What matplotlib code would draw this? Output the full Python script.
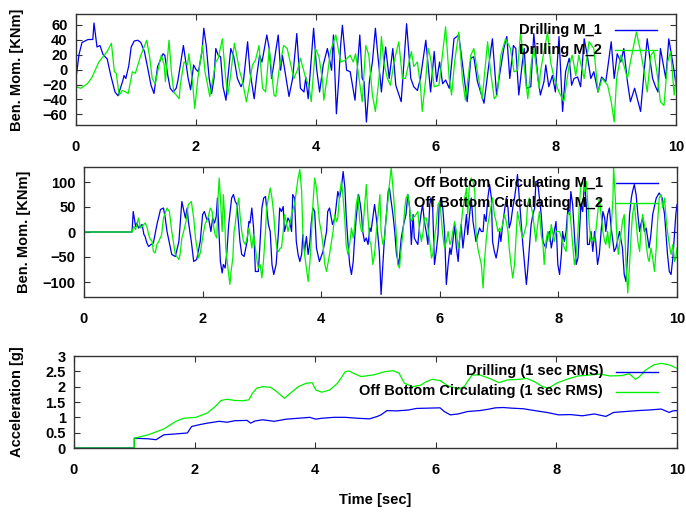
import matplotlib
matplotlib.use("Agg")
import matplotlib.pyplot as plt
from matplotlib.ticker import FormatStrFormatter
from matplotlib.transforms import ScaledTranslation

plt.rcParams["font.family"] = ["Liberation Sans", "DejaVu Sans"]
plt.rcParams["font.weight"] = "bold"

BLUE = "#0000f0"
GREEN = "#00f000"

# --- drilling, bending moment ---
drill_t1 = [0, 0.05, 0.1, 0.2, 0.28, 0.3, 0.35, 0.4, 0.45, 0.52, 0.58, 0.65, 0.7, 0.78, 0.8, 0.83,
            0.88, 0.92, 0.97, 1.03, 1.08, 1.14, 1.2, 1.25, 1.3, 1.36, 1.45, 1.48, 1.53, 1.57, 1.62,
            1.67, 1.7, 1.79, 1.83, 1.87, 1.91, 1.96, 2.0, 2.04, 2.1, 2.13, 2.17, 2.22, 2.26, 2.3,
            2.33, 2.37, 2.41, 2.45, 2.5, 2.53, 2.58, 2.63, 2.69, 2.75, 2.79, 2.86, 2.9, 2.97, 3.01,
            3.06, 3.1, 3.18, 3.22, 3.26, 3.37, 3.41, 3.44, 3.55, 3.61, 3.68, 3.74, 3.8, 3.83, 3.84,
            3.87, 3.96, 4.01, 4.06, 4.12, 4.19, 4.26, 4.29, 4.34, 4.38, 4.41, 4.44, 4.51, 4.57, 4.65,
            4.73, 4.77, 4.8, 4.84, 4.89, 4.94, 4.99, 5.03, 5.07, 5.09, 5.16, 5.22, 5.28, 5.33, 5.42,
            5.51, 5.58, 5.63, 5.69, 5.74, 5.83, 5.91, 5.97, 6.01, 6.06, 6.11, 6.16, 6.22, 6.3, 6.38,
            6.52, 6.58, 6.63, 6.69, 6.8, 6.88, 6.94, 7.01, 7.05, 7.13, 7.18, 7.23, 7.29, 7.33, 7.38,
            7.44, 7.47, 7.51, 7.58, 7.63, 7.7, 7.74, 7.8, 7.83, 7.88, 7.94, 7.99, 8.05, 8.11, 8.16,
            8.22, 8.26, 8.3, 8.36, 8.41, 8.47, 8.52, 8.58, 8.63, 8.7, 8.76, 8.83, 8.86, 8.92, 8.97,
            9.02, 9.08, 9.13, 9.19, 9.24, 9.31, 9.41, 9.47, 9.52, 9.61, 9.66, 9.7, 9.74, 9.83, 9.88,
            9.97, 10.0]
drill_m1 = [-12, 20, 36, 40, 40, 62, 30, 32, 20, 14, -8, -30, -35, -15, -8, -12,
            5, 30, 38, 39, 36, 24, 0, -21, -32, 4, 21, 19, -8, -25, -30,
            -25, -14, 32, 10, -12, -27, 6, 0, -3, 24, 55, 32, -12, -32, -12,
            28, 19, 17, -23, -41, -12, 28, 17, -12, -23, -16, 37, -3, -39, -10,
            19, 10, 46, 28, -12, 46, -1, 19, -36, -12, 48, -25, -30, -10, -19,
            -39, 55, 1, -30, 6, 28, -1, 46, -59, -12, 32, 59, -1, -3, -41,
            46, -12, -16, -70, -16, 10, 55, 19, -12, -30, 30, -12, 28, -21, -43,
            61, -12, -23, -28, -12, 39, -30, 24, -16, 10, -19, -14, -25, 41, 46,
            -43, 15, 17, -16, -45, 6, 41, -34, -12, 28, 44, -12, 32, 28, -34,
            10, 28, -25, -23, 48, -12, -34, -16, 6, -23, -8, -30, 44, -56, -3,
            15, -21, -12, -10, -23, 41, 19, -12, -3, -30, -10, -16, 1, 37, -12,
            21, 10, 28, -16, -43, -25, -56, -1, 41, -12, -23, -30, 28, -12, 41,
            -3, -21]
drill_t2 = [0, 0.08, 0.19, 0.27, 0.33, 0.38, 0.47, 0.52, 0.59, 0.64, 0.67, 0.72, 0.77, 0.83, 0.87,
            0.94, 0.99, 1.08, 1.18, 1.23, 1.27, 1.32, 1.37, 1.42, 1.47, 1.49, 1.55, 1.59, 1.63, 1.72,
            1.74, 1.8, 1.86, 1.88, 1.94, 1.98, 2.03, 2.11, 2.15, 2.23, 2.33, 2.37, 2.44, 2.49, 2.53,
            2.57, 2.64, 2.73, 2.77, 2.84, 2.88, 2.94, 2.99, 3.05, 3.11, 3.16, 3.22, 3.3, 3.33, 3.38,
            3.46, 3.52, 3.58, 3.63, 3.69, 3.74, 3.83, 3.88, 3.92, 3.99, 4.05, 4.11, 4.13, 4.19, 4.24,
            4.33, 4.41, 4.48, 4.57, 4.62, 4.66, 4.73, 4.77, 4.83, 4.88, 4.94, 4.99, 5.05, 5.09, 5.13,
            5.19, 5.24, 5.3, 5.38, 5.44, 5.49, 5.55, 5.59, 5.63, 5.69, 5.74, 5.77, 5.83, 5.87, 5.91,
            5.97, 6.05, 6.16, 6.22, 6.26, 6.31, 6.38, 6.44, 6.49, 6.58, 6.63, 6.69, 6.77, 6.86, 6.91,
            6.97, 7.02, 7.08, 7.16, 7.24, 7.3, 7.36, 7.41, 7.49, 7.53, 7.59, 7.63, 7.72, 7.74, 7.8,
            7.86, 7.91, 7.97, 8.05, 8.13, 8.22, 8.27, 8.33, 8.38, 8.47, 8.55, 8.63, 8.7, 8.77, 8.86,
            8.92, 8.97, 9.01, 9.08, 9.13, 9.19, 9.24, 9.34, 9.41, 9.47, 9.52, 9.58, 9.63, 9.69, 9.74,
            9.8, 9.86, 9.91, 9.97, 10.0]
drill_m2 = [-23, -25, -19, -10, 1, 10, 19, 24, 35, -3, -5, -34, -28, -30, -32,
            -3, -5, 19, 39, 15, -12, -19, 1, 19, 6, -16, 39, -3, -30, -39,
            -19, 10, 6, 21, -16, -52, -12, 32, -3, -36, 10, 15, 41, -8, -34,
            -12, 35, -3, -14, -43, -25, 6, 12, 32, -25, -30, 28, -34, -36, -3,
            32, 28, 6, -12, -1, 15, -12, -21, -43, 28, 17, -16, -41, -8, 24,
            46, 10, 12, 19, 10, 21, -19, -43, 32, 19, -34, -56, -12, 44, 10,
            -12, -21, 10, 37, -12, -12, 10, 24, 4, 10, -21, -56, -12, 28, 15,
            -23, -21, 57, -12, -34, 10, 50, -12, -41, 19, 28, -3, -39, 37, -3,
            -39, -34, 19, 41, 28, -3, -1, 50, -12, -39, 10, 28, -25, -3, 24,
            50, 10, -12, -30, -43, 6, 19, -8, 19, -12, 37, 28, -30, -12, -21,
            -43, -70, -12, 19, 6, -12, 10, 50, 24, -3, -30, 19, 24, -8, -43,
            -48, 10, 24, -34, -12]

# --- off bottom circulating, bending moment ---
obc_t1 = [0, 0.81, 0.83, 0.87, 0.89, 0.92, 0.98, 1.01, 1.03, 1.06, 1.09, 1.13, 1.17, 1.23, 1.29,
          1.34, 1.37, 1.4, 1.44, 1.48, 1.54, 1.6, 1.65, 1.68, 1.71, 1.74, 1.76, 1.81, 1.85, 1.9,
          1.96, 2.0, 2.03, 2.07, 2.1, 2.14, 2.17, 2.2, 2.23, 2.25, 2.27, 2.3, 2.33, 2.35, 2.38,
          2.41, 2.44, 2.49, 2.52, 2.55, 2.58, 2.63, 2.66, 2.7, 2.75, 2.78, 2.8, 2.83, 2.86, 2.89,
          2.94, 2.97, 3.0, 3.03, 3.06, 3.08, 3.11, 3.14, 3.17, 3.2, 3.24, 3.28,
          3.3, 3.33, 3.36, 3.38, 3.44, 3.47, 3.5, 3.52, 3.55, 3.58, 3.61, 3.64, 3.67, 3.69, 3.72,
          3.75, 3.78, 3.81, 3.83, 3.86, 3.89, 3.92, 3.97, 4.03, 4.09, 4.11, 4.14, 4.19, 4.23, 4.28,
          4.31, 4.34, 4.37, 4.4, 4.42, 4.45, 4.48, 4.51, 4.54, 4.56, 4.59, 4.63, 4.66, 4.68, 4.7,
          4.73, 4.76, 4.79, 4.82, 4.84, 4.87, 4.9, 4.93, 4.98, 5.01, 5.04, 5.07, 5.1, 5.13, 5.15,
          5.21, 5.24, 5.27, 5.31, 5.35, 5.39, 5.43, 5.46, 5.49, 5.52, 5.55, 5.57, 5.6, 5.63, 5.66,
          5.69, 5.71, 5.74, 5.77, 5.8, 5.83, 5.85, 5.88, 5.91, 5.94, 5.97, 5.99, 6.02, 6.05, 6.08,
          6.11, 6.14, 6.17, 6.19, 6.22, 6.25, 6.28, 6.31, 6.33, 6.36, 6.39, 6.42, 6.45, 6.47, 6.53,
          6.56, 6.61, 6.67, 6.7, 6.73, 6.75, 6.78, 6.81, 6.84, 6.87, 6.89, 6.92, 6.95, 6.98, 7.01,
          7.03, 7.06, 7.12, 7.15, 7.17, 7.2, 7.23, 7.26, 7.29, 7.31, 7.34, 7.37, 7.4, 7.43, 7.46,
          7.48, 7.51, 7.54, 7.57, 7.6, 7.62, 7.65, 7.68, 7.71, 7.74, 7.76, 7.79, 7.82, 7.85, 7.88,
          7.9, 7.93, 7.96, 7.99, 8.02, 8.05, 8.07, 8.1, 8.13, 8.16, 8.19, 8.21, 8.24, 8.27, 8.3,
          8.33, 8.35, 8.38, 8.41, 8.44, 8.47, 8.49, 8.52, 8.55, 8.58, 8.61, 8.63, 8.66, 8.69, 8.72,
          8.75, 8.78, 8.8, 8.83, 8.86, 8.89, 8.92, 8.94, 8.97, 9.03, 9.06, 9.08, 9.11, 9.14, 9.17,
          9.2, 9.23, 9.25, 9.28, 9.31, 9.34, 9.37, 9.39, 9.42, 9.45, 9.48, 9.53, 9.56, 9.59, 9.65,
          9.7, 9.75, 9.79, 9.82, 9.84, 9.87, 9.9, 9.93, 9.96, 9.98, 10.0]
obc_m1 = [0, 0, 41, 11, 18, 8, 15, -5, -9, -22, -29, -25, -22, 15, 45,
          48, 28, 1, -22, -45, -49, -19, 61, 45, 28, 48, 21, -19, -59, -55,
          -19, 35, 41, 25, 28, 1, 28, 18, 31, 68, 15, -59, -82, -65, -72,
          -39, 15, 68, 75, 61, 55, -19, -45, -49, -19, 21, 18, 48, 8, -79,
          -79, -19, 48, 68, 71, 48, 15, 1, -65, -85, -65, 1,
          48, 41, 51, 1, 28, 21, 1, 75, 68, -19, -45, -59, -45, -5, -39,
          -9, -45, -19, 15, 48, 41, -32, -59, -39, 1, 41, 48, 15, 28, 81,
          68, 88, 121, 88, 35, -19, -65, -85, -59, -19, 28, 75, 55, 35, 1,
          -19, -12, -25, 8, 1, 28, 55, 28, -39, -125, -65, -5, 35, 81, 88,
          35, 1, -45, -65, -12, 15, 35, 75, 51, -25, 35, -12, -19, -25, 15,
          41, 55, 21, 1, -25, 55, 68, 48, -65, -39, -5, 55, 68, 48, 1,
          -105, -65, -32, -45, -19, 15, -32, -59, -19, 15, -32, 1, 35, -5, 68,
          21, -19, 8, 1, 1, 35, 21, 68, 95, 68, -19, -39, -52, -32, 1,
          -19, 15, 68, 48, 8, 21, 48, 68, 95, 115, 68, 21, -25, -65, -105,
          -79, -32, 15, 35, 48, 101, 101, 68, 35, -19, -25, -32, -5, 1, -32,
          -19, 1, 21, -65, -85, -45, 1, -19, 1, 48, 35, 81, 55, -5, -65,
          -52, -12, 55, 41, 101, 55, -25, -25, 1, -39, 1, -19, -65, -45, 1,
          41, 28, 1, 35, 48, 8, -19, -39, -32, 1, -19, -32, -85, -99, -39,
          35, 68, 81, 95, 75, 35, 1, 15, 28, 1, 8, -32, -5, 35, 68,
          78, 68, 35, -12, -45, -79, -85, -52, 1, 35, 55]
obc_t2 = [0, 0.81, 0.84, 0.87, 0.89, 0.92, 0.95, 0.98, 1.01, 1.03, 1.06, 1.09, 1.12, 1.15, 1.17,
          1.2, 1.23, 1.26, 1.31, 1.34, 1.4, 1.44, 1.48, 1.54, 1.6, 1.62, 1.65, 1.68, 1.72, 1.76,
          1.81, 1.85, 1.88, 1.93, 1.96, 2.0, 2.04, 2.09, 2.13, 2.16, 2.19, 2.21, 2.24, 2.26, 2.28,
          2.3, 2.33, 2.35, 2.37, 2.39, 2.42, 2.44, 2.46, 2.48, 2.51, 2.53, 2.55, 2.58, 2.61, 2.63,
          2.66, 2.69, 2.72, 2.75, 2.78, 2.8, 2.83, 2.86, 2.89, 2.92, 2.94, 2.97, 3.0, 3.03, 3.06,
          3.08, 3.11, 3.14, 3.17, 3.2, 3.22, 3.25, 3.28, 3.31,
          3.33, 3.36, 3.38, 3.41, 3.44, 3.47, 3.5, 3.55, 3.61, 3.64, 3.67, 3.69, 3.72, 3.78, 3.81,
          3.83, 3.86, 3.89, 3.92, 3.95, 3.97, 4.0, 4.03, 4.06, 4.09, 4.14, 4.2, 4.23, 4.26, 4.28,
          4.31, 4.34, 4.37, 4.4, 4.42, 4.45, 4.48, 4.51, 4.54, 4.56, 4.59, 4.62, 4.65, 4.68, 4.7,
          4.73, 4.76, 4.79, 4.82, 4.84, 4.87, 4.9, 4.93, 4.96, 4.99, 5.01, 5.04, 5.07, 5.1, 5.13,
          5.15, 5.18, 5.21, 5.24, 5.27, 5.29, 5.32, 5.35, 5.38, 5.41, 5.43, 5.46, 5.49, 5.52, 5.55,
          5.6, 5.63, 5.66, 5.69, 5.72, 5.74, 5.77, 5.8, 5.83, 5.86, 5.88, 5.91, 5.94, 5.97, 6.0,
          6.02, 6.05, 6.08, 6.11, 6.14, 6.17, 6.19, 6.22, 6.25, 6.28, 6.31, 6.33, 6.36, 6.39, 6.42,
          6.45, 6.47, 6.5, 6.53, 6.56, 6.59, 6.61, 6.64, 6.7, 6.73, 6.75, 6.78, 6.81, 6.84, 6.87,
          6.89, 6.92, 6.95, 6.98, 7.01, 7.03, 7.06, 7.09, 7.12, 7.15, 7.17, 7.2, 7.23, 7.26, 7.29,
          7.31, 7.34, 7.37, 7.4, 7.43, 7.46, 7.48, 7.51, 7.57, 7.6, 7.62, 7.65, 7.68, 7.71, 7.74,
          7.76, 7.79, 7.82, 7.85, 7.88, 7.9, 7.93, 7.96, 8.02, 8.07, 8.1, 8.13, 8.16, 8.19, 8.21,
          8.24, 8.27, 8.3, 8.33, 8.35, 8.38, 8.41, 8.44, 8.47, 8.49, 8.52, 8.55, 8.58, 8.61, 8.63,
          8.66, 8.69, 8.72, 8.75, 8.78, 8.8, 8.83, 8.86, 8.89, 8.92, 8.93, 8.96, 8.98, 9.01, 9.03,
          9.06, 9.08, 9.11, 9.14, 9.17, 9.2, 9.23, 9.25, 9.28, 9.31, 9.34, 9.37, 9.39, 9.42, 9.45,
          9.48, 9.51, 9.53, 9.56, 9.59, 9.62, 9.65, 9.67, 9.7, 9.73, 9.76, 9.79, 9.82, 9.84, 9.87,
          9.9, 9.93, 9.96, 9.98, 10.0]
obc_m2 = [0, 0, 11, 5, 15, 28, 8, 11, 15, 18, 11, -5, -15, -19, -39,
          -42, -25, -19, -5, 28, 48, 41, 1, -45, -55, -45, -12, 1, 21, 55,
          61, 28, -12, -52, -42, -12, 15, 28, 48, 41, 8, -5, -12, 68, 108,
          68, 1, 75, 35, -32, -65, -85, -105, -79, -52, 1, 15, 48, 68, 35,
          1, -19, -25, -12, 8, -5, -32, -5, -32, -59, -72, -65, -92, -52, 1,
          48, 68, 88, 68, 35, 1, -32, -39, -32,
          -32, 1, 35, 21, 1, 15, 35, 55, 108, 125, 81, 1, -45, -99, -59,
          -19, 55, 108, 88, 48, 21, 1, -25, -65, -79, -45, 1, 35, 21, 28,
          75, 101, 68, 21, -25, -45, -25, 8, -12, 8, 55, 75, 21, 1, 1,
          48, 95, 28, -19, -25, -65, -45, 1, 35, 75, 1, -25, -12, 35, 68,
          95, 128, 88, 41, -12, -65, -72, -32, 1, 48, 68, 75, 48, 21, 28,
          35, 41, 1, -19, 1, 28, 28, 8, -19, -52, -45, -12, 15, 55, 61,
          35, -5, -32, -19, 1, -25, -19, 1, 21, 1, -32, -19, 15, 48, 68,
          88, 35, 95, 108, 101, 81, 1, -32, -65, -112, -65, -19, 15, 35, 55,
          68, 35, 21, 1, 8, 1, 15, 35, 21, 1, -32, -65, -92, -65, 1,
          41, 21, 1, -12, 1, 15, 55, 68, 35, 1, -19, 15, 41, -5, -25,
          -65, -19, 1, -19, 15, 1, -19, 1, 1, -19, -32, -39, 35, 41, 21,
          -25, -65, -45, 1, 48, 95, 101, 81, 101, 68, 15, -19, -12, -19, 1,
          35, 68, 35, 1, -19, -25, 1, -32, 8, 68, 131, 68, 1, -45, -25,
          1, 21, 35, -65, -122, -65, 1, 35, 55, 21, -19, -39, 1, 35, 15,
          -25, -52, -59, -32, -52, -79, -32, 15, 68, 75, 48, 68, 21, 1, -25,
          -45, -25, -59, -52, -32]

# --- 1 sec RMS acceleration ---
rms_t_drill = [0, 1.0, 1.0, 1.23, 1.36, 1.49, 1.69, 1.88, 1.95, 2.08, 2.21, 2.41, 2.54, 2.67, 2.87,
               2.93, 3.0, 3.13, 3.32, 3.52, 3.72, 3.91, 4.01, 4.11, 4.31, 4.5, 4.7, 4.9, 5.03, 5.09,
               5.19, 5.35, 5.55, 5.68, 5.88, 6.07, 6.14, 6.24, 6.37, 6.53, 6.73, 6.86, 6.99, 7.12,
               7.25, 7.45, 7.64, 7.84, 8.04, 8.23, 8.43, 8.63, 8.82, 8.95, 9.15, 9.35, 9.54, 9.74,
               9.87, 9.93, 10.0]
rms_drill = [0, 0, 0.32, 0.30, 0.27, 0.43, 0.46, 0.49, 0.70, 0.76, 0.81, 0.87, 0.84, 0.89, 0.90,
             0.81, 0.88, 0.92, 0.87, 0.94, 0.97, 1.0, 0.94, 0.97, 1.0, 1.0, 0.97, 0.95, 1.03, 1.08,
             1.22, 1.21, 1.24, 1.29, 1.30, 1.31, 1.19, 1.08, 1.11, 1.19, 1.22, 1.26, 1.31, 1.32,
             1.30, 1.28, 1.22, 1.16, 1.08, 1.09, 1.05, 1.11, 1.03, 1.16, 1.19, 1.22, 1.24, 1.27,
             1.16, 1.21, 1.22]
rms_t_obc = [0, 1.0, 1.0, 1.23, 1.49, 1.69, 1.82, 2.02, 2.21, 2.34, 2.44, 2.54, 2.67, 2.8, 2.9,
             2.96, 3.03, 3.13, 3.26, 3.36, 3.49, 3.59, 3.72, 3.85, 3.95, 4.01, 4.11, 4.24, 4.37,
             4.5, 4.57, 4.63, 4.76, 4.96, 5.16, 5.29, 5.39, 5.48, 5.62, 5.75, 5.84, 5.94, 6.07,
             6.2, 6.37, 6.47, 6.6, 6.73, 6.89, 7.05, 7.19, 7.38, 7.51, 7.64, 7.77, 7.87, 8.0,
             8.17, 8.36, 8.56, 8.72, 8.89, 9.08, 9.21, 9.31, 9.38, 9.48, 9.61, 9.74, 9.87, 10.0]
rms_obc = [0, 0, 0.32, 0.43, 0.62, 0.87, 0.97, 1.0, 1.14, 1.35, 1.55, 1.59, 1.55, 1.54, 1.57,
           1.79, 1.95, 2.0, 1.98, 1.84, 1.62, 1.79, 2.0, 2.11, 2.13, 1.89, 1.82, 1.89, 2.11,
           2.49, 2.51, 2.44, 2.33, 2.38, 2.49, 2.52, 2.44, 2.11, 2.0, 2.05, 2.16, 2.24, 2.2,
           2.03, 1.92, 2.0, 2.38, 2.38, 2.27, 2.13, 2.22, 2.24, 2.27, 2.16, 2.0, 1.95, 2.11,
           2.24, 2.35, 2.38, 2.41, 2.35, 2.36, 2.42, 2.24, 2.33, 2.54, 2.71, 2.76, 2.71, 2.6]

W, H = 686, 513
FS = 10.5


def px_axes(fig, left, right, top, bottom):
    return fig.add_axes([left / W, 1 - bottom / H, (right - left) / W, (bottom - top) / H])


def style(ax, ylim, yticks, fmt=None):
    ax.set_xlim(0, 10)
    ax.set_ylim(*ylim)
    ax.set_xticks([0, 2, 4, 6, 8, 10])
    ax.set_yticks(yticks)
    if fmt:
        ax.yaxis.set_major_formatter(FormatStrFormatter(fmt))
    ax.tick_params(direction="in", length=4, width=0.8, top=True, right=True,
                   labelsize=FS, color="#333333")
    ax.tick_params(axis="x", pad=11)
    ax.tick_params(axis="y", pad=6)
    for s in ax.spines.values():
        s.set_color("#333333")
        s.set_linewidth(1.0)


def key(ax, labels, colors):
    # gnuplot-style key: right-justified labels with a line sample after them
    fig = ax.figure
    wpx = ax.bbox.width
    for i, (lab, col) in enumerate(zip(labels, colors)):
        dy = -(15.5 + 20 * i) / 100
        tr_txt = ax.transAxes + ScaledTranslation(-0.74, dy, fig.dpi_scale_trans)
        ax.text(1, 1, lab, transform=tr_txt, ha="right", va="center",
                fontsize=FS, fontweight="bold", zorder=5)
        tr_l = ax.transAxes + ScaledTranslation(0, dy, fig.dpi_scale_trans)
        ax.plot([1 - 61 / wpx, 1 - 19 / wpx], [1, 1],
                transform=tr_l, color=col, lw=1.0, zorder=5, clip_on=False)


fig = plt.figure(figsize=(W / 100, H / 100), dpi=100)

ax1 = px_axes(fig, 76, 676, 14, 125)
ax1.plot(drill_t1, drill_m1, color=BLUE, lw=0.9)
ax1.plot(drill_t2, drill_m2, color=GREEN, lw=0.9)
style(ax1, (-74, 74), [-60, -40, -20, 0, 20, 40, 60])
key(ax1, ["Drilling M_1", "Drilling M_2"], [BLUE, GREEN])

ax2 = px_axes(fig, 84, 677, 167, 297)
ax2.plot(obc_t1, obc_m1, color=BLUE, lw=0.9)
ax2.plot(obc_t2, obc_m2, color=GREEN, lw=0.9)
style(ax2, (-130, 130), [-100, -50, 0, 50, 100])
key(ax2, ["Off Bottom Circulating M_1", "Off Bottom Circulating M_2"], [BLUE, GREEN])

ax3 = px_axes(fig, 74, 677, 356, 448)
ax3.plot(rms_t_drill, rms_drill, color=BLUE, lw=0.9)
ax3.plot(rms_t_obc, rms_obc, color=GREEN, lw=0.9)
style(ax3, (0, 3), [0, 0.5, 1, 1.5, 2, 2.5, 3], "%g")
key(ax3, ["Drilling (1 sec RMS)", "Off Bottom Circulating (1 sec RMS)"], [BLUE, GREEN])

for xc, yc, txt in [(17, 70, "Ben. Mom. [KNm]"), (24, 232, "Ben. Mom. [KNm]"),
                    (17, 402, "Acceleration [g]")]:
    fig.text(xc / W, 1 - yc / H, txt, rotation=90, ha="center", va="center",
             fontsize=FS, fontweight="bold")
fig.text(375 / W, 1 - 500 / H, "Time [sec]", ha="center", va="center",
         fontsize=FS, fontweight="bold")

fig.savefig("out.png", dpi=100)
